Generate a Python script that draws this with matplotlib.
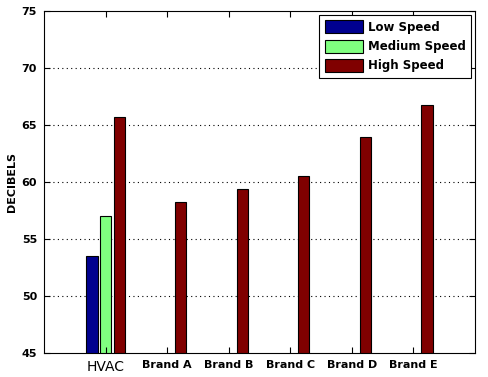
import numpy as np
import matplotlib
matplotlib.use('Agg')
import matplotlib.pyplot as plt

categories = ['HVAC', 'Brand A', 'Brand B', 'Brand C', 'Brand D', 'Brand E']
low_speed = [53.5, np.nan, np.nan, np.nan, np.nan, np.nan]
medium_speed = [57.0, np.nan, np.nan, np.nan, np.nan, np.nan]
high_speed = [65.7, 58.25, 59.4, 60.5, 63.9, 66.75]
series_names = ['Low Speed', 'Medium Speed', 'High Speed']
colors = ['#00008f', '#80ff80', '#800000']

fig = plt.figure(figsize=(4.89, 3.77), dpi=100)
ax = fig.add_axes([44/489, 1-352.6/377, (475-44)/489, (352.6-11)/377])

x = np.arange(1, len(categories)+1)
w = 0.18
off = 0.22
for i, (vals, name, c) in enumerate(zip([low_speed, medium_speed, high_speed], series_names, colors)):
    ax.bar(x + (i-1)*off, np.nan_to_num(vals, nan=0), w, color=c, edgecolor='black',
           linewidth=0.8, label=name)

ax.set_xlim(0, 7)
ax.set_ylim(45, 75)
ax.set_yticks(np.arange(45, 76, 5))
ax.set_xticks(x)
ax.set_xticklabels(categories)
for i, lab in enumerate(ax.get_xticklabels()):
    if i == 0:
        lab.set_fontsize(10)
        lab.set_fontweight('normal')
    else:
        lab.set_fontsize(8)
        lab.set_fontweight('bold')
for lab in ax.get_yticklabels():
    lab.set_fontsize(8)
    lab.set_fontweight('bold')
ax.tick_params(direction='in', top=True, right=True, length=4, width=0.8, pad=5)
for yv in range(50, 75, 5):
    ax.axhline(yv, color='black', linestyle=(0, (1, 3)), linewidth=0.8, zorder=0)
ax.set_ylabel('DECIBELS', fontsize=8, fontweight='bold', labelpad=3)
for s in ax.spines.values():
    s.set_linewidth(0.8)

leg = ax.legend(loc='upper right', prop={'size': 8.5, 'weight': 'bold'}, fancybox=False,
                edgecolor='black', framealpha=1, handlelength=3.2, handleheight=1.3,
                borderaxespad=0.3, labelspacing=0.5, handletextpad=0.4, borderpad=0.5)
leg.get_frame().set_linewidth(0.8)

plt.savefig('out.png', dpi=100)
